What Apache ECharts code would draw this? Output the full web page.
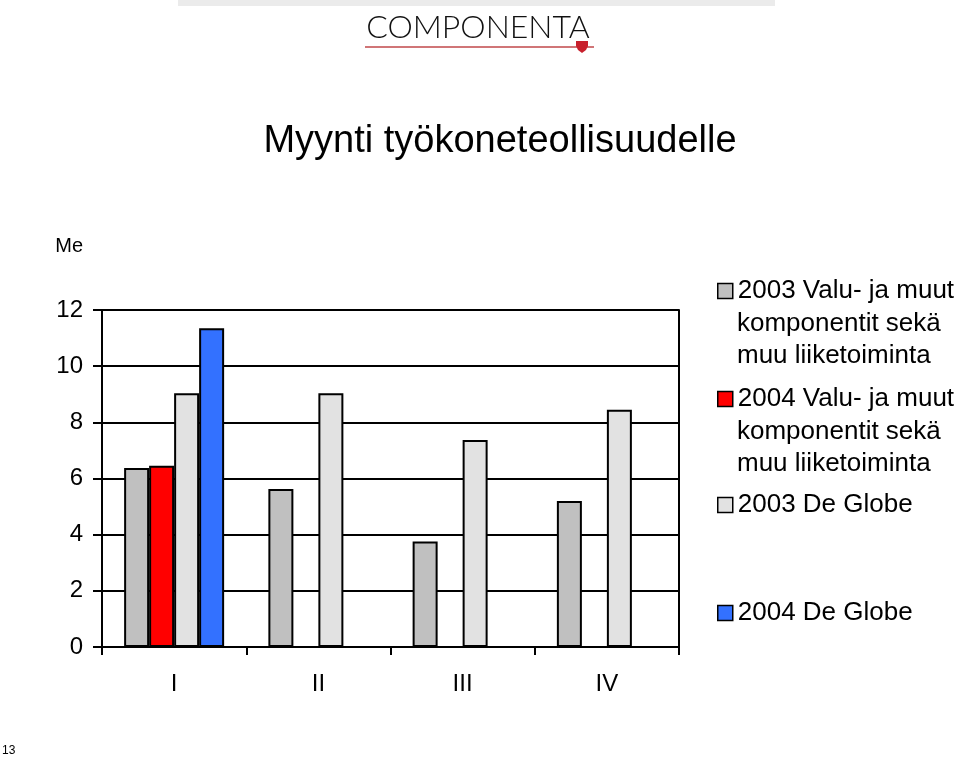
<!DOCTYPE html>
<html>
<head>
<meta charset="utf-8">
<script src="https://cdn.jsdelivr.net/npm/echarts@6/dist/echarts.min.js"></script>
<style>
html,body{margin:0;padding:0;background:#fff;}
#c{width:960px;height:757px;}
</style>
</head>
<body>
<div id="c"></div>
<script>
var categories = ['I', 'II', 'III', 'IV'];
var seriesNames = [
  '2003 Valu- ja muut\nkomponentit sekä\nmuu liiketoiminta',
  '2004 Valu- ja muut\nkomponentit sekä\nmuu liiketoiminta',
  '2003 De Globe',
  '2004 De Globe'
];
var valu2003 = [6.37, 5.63, 3.76, 5.20];
var valu2004 = [6.45, null, null, null];
var globe2003 = [9.04, 9.04, 7.37, 8.45];
var globe2004 = [11.35, null, null, null];
var seriesColors = ['#c0c0c0', '#ff0000', '#e2e2e2', '#3371ff'];
var yTicks = { min: 0, max: 12, interval: 2 };

var FONT = "'Liberation Sans', Arial, sans-serif";
var chart = echarts.init(document.getElementById('c'), null, { renderer: 'canvas' });

var dataSets = [valu2003, valu2004, globe2003, globe2004];
var series = dataSets.map(function (d, i) {
  return {
    name: seriesNames[i],
    type: 'bar',
    data: d,
    barWidth: 25,
    barGap: '0%',
    itemStyle: { color: seriesColors[i], borderColor: '#000', borderWidth: 2 },
    emphasis: { disabled: true },
    animation: false
  };
});

var legendCenters = [290, 398, 504, 612];
var legends = [];
var legendExtraText = [];
seriesNames.forEach(function (n, i) {
  var lines = n.split('\n');
  legends.push({
    data: [n],
    left: 717,
    top: legendCenters[i] - 12,
    padding: 0,
    itemWidth: 15,
    itemHeight: 15,
    icon: 'rect',
    selectedMode: false,
    formatter: function (name) { return name.split('\n')[0]; },
    itemStyle: { borderColor: '#000', borderWidth: 1.5 },
    textStyle: { fontFamily: FONT, fontSize: 26, color: '#000' }
  });
  for (var k = 1; k < lines.length; k++) {
    legendExtraText.push({
      type: 'text', x: 737, y: legendCenters[i] + 32 * k + 2,
      style: { text: lines[k], fontFamily: FONT, fontSize: 26, fill: '#000', align: 'left', verticalAlign: 'middle' },
      silent: true
    });
  }
});

chart.setOption({
  animation: false,
  textStyle: { fontFamily: FONT },
  grid: { left: 102, right: 281, top: 310, bottom: 110, containLabel: false },
  legend: legends,
  xAxis: {
    type: 'category',
    data: categories,
    axisLine: { show: true, lineStyle: { color: '#000', width: 2 } },
    axisTick: { show: true, length: 8, alignWithLabel: false, lineStyle: { color: '#000', width: 2 } },
    axisLabel: { color: '#000', fontSize: 24, margin: 25, fontFamily: FONT },
    splitLine: { show: false }
  },
  yAxis: [{
    type: 'value',
    min: yTicks.min, max: yTicks.max, interval: yTicks.interval,
    name: 'Me',
    nameLocation: 'end',
    nameGap: 64,
    nameTextStyle: { color: '#000', fontSize: 20, align: 'right', verticalAlign: 'middle', padding: [0, 19, 0, 0], fontFamily: FONT },
    axisLine: { show: true, lineStyle: { color: '#000', width: 2 } },
    axisTick: { show: true, length: 9, lineStyle: { color: '#000', width: 2 } },
    axisLabel: { color: '#000', fontSize: 24, margin: 19, fontFamily: FONT },
    splitLine: { show: true, lineStyle: { color: '#000', width: 2 } }
  }, {
    type: 'value',
    position: 'right',
    min: yTicks.min, max: yTicks.max, interval: yTicks.interval,
    axisLine: { show: true, lineStyle: { color: '#000', width: 2 } },
    axisTick: { show: false },
    axisLabel: { show: false },
    splitLine: { show: false }
  }],
  series: series,
  graphic: [
    { type: 'rect', shape: { x: 178, y: 0, width: 597, height: 6 }, style: { fill: '#ebebeb' }, silent: true },
    { type: 'text', x: 478, y: 28, style: { text: 'COMPONENTA', fontFamily: "Lato, 'Noto Sans', sans-serif", fontWeight: 300, fontSize: 32, fill: '#111', align: 'center', verticalAlign: 'middle' }, silent: true },
    { type: 'line', shape: { x1: 365, y1: 47, x2: 577, y2: 47 }, style: { stroke: '#c0474a', lineWidth: 1.5 }, silent: true },
    { type: 'line', shape: { x1: 587, y1: 47, x2: 594, y2: 47 }, style: { stroke: '#c0474a', lineWidth: 1.5 }, silent: true },
    { type: 'polygon', shape: { points: [[576, 41], [588, 41], [588, 46], [586, 50], [582, 53], [578, 50], [576, 46]] }, style: { fill: '#c8202c' }, silent: true },
    { type: 'text', x: 500, y: 142, style: { text: 'Myynti työkoneteollisuudelle', fontFamily: FONT, fontSize: 38, fill: '#000', align: 'center', verticalAlign: 'middle' }, silent: true },
    { type: 'text', x: 2, y: 751, style: { text: '13', fontFamily: FONT, fontSize: 12, fill: '#000', align: 'left', verticalAlign: 'middle' }, silent: true }
  ].concat(legendExtraText)
});
</script>
</body>
</html>
